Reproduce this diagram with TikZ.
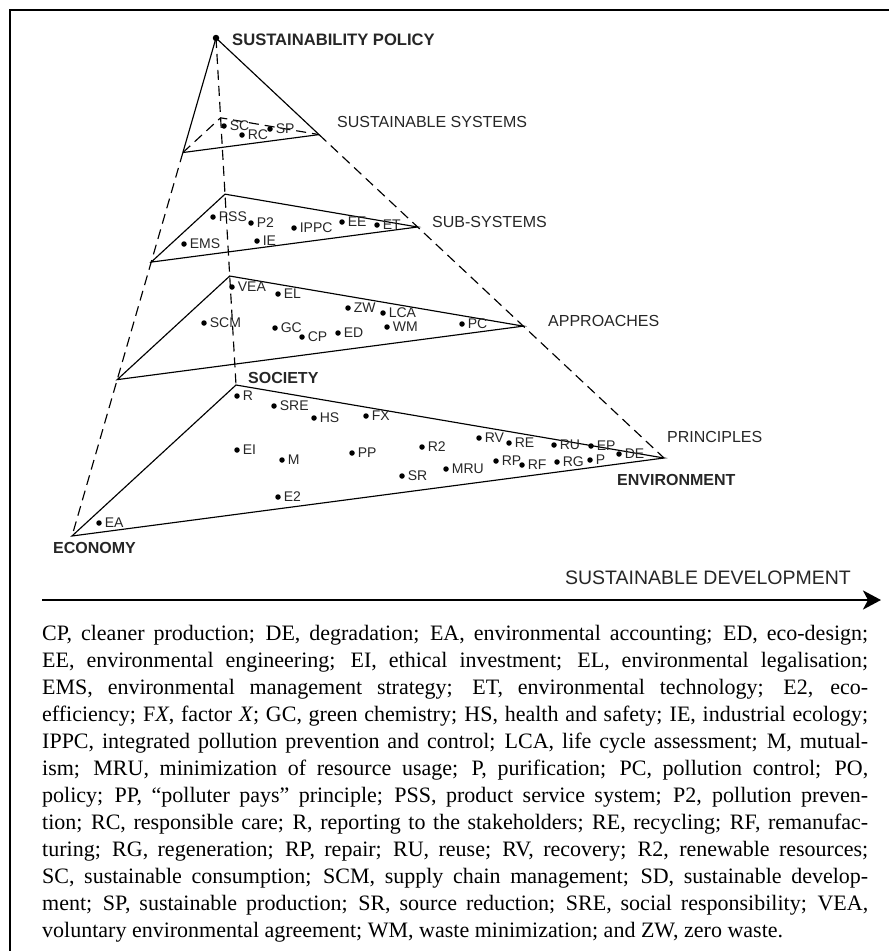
\documentclass[tikz,border=0pt]{standalone}
\usepackage{fontspec}
\setmainfont{Liberation Serif}
\newfontfamily\labfont{Liberation Sans}
\usetikzlibrary{calc,arrows.meta}

\tikzset{
  edge/.style={line width=1.15pt, black},
  hidden/.style={line width=1.15pt, black, dash pattern=on 10pt off 6pt},
  dot/.style={circle, fill=black, minimum size=5.5pt, inner sep=0pt},
  lab/.style={font=\labfont\fontsize{14}{16}\selectfont, text=black!85, inner sep=0.4pt},
  level/.style={font=\labfont\fontsize{16}{18}\selectfont, text=black!85, inner sep=0pt, anchor=west},
  corner/.style={font=\labfont\bfseries\fontsize{16}{18}\selectfont, text=black!85, inner sep=0pt, anchor=west},
  item/.style={dot, label={[lab, label distance=2.3pt]right:#1}}
}

\begin{document}
\begin{tikzpicture}[x=1pt, y=-1pt]
\useasboundingbox (0,0) rectangle (889,951);

% frame
\coordinate (fbl) at (10,951);
\coordinate (ftl) at (10,10);
\coordinate (ftr) at (889,10);
\draw[line width=1.2pt] (fbl) -- (ftl) -- (ftr);

% pyramid corners
\coordinate (A) at (216,38);
\coordinate (E) at (72,536);
\coordinate (S) at (236,385);
\coordinate (V) at (664,458);

% cross sections
\foreach \i/\t in {1/0.23, 2/0.45, 3/0.686} {
  \coordinate (L\i) at ($(A)!\t!(E)$);
  \coordinate (M\i) at ($(A)!\t!(S)$);
  \coordinate (R\i) at ($(A)!\t!(V)$);
}

% edges
\draw[edge] (A) -- (L1);
\draw[edge] (A) -- (R1);
\draw[hidden] (A) -- (S);
\draw[hidden] (L1) -- (E);
\draw[hidden] (R1) -- (V);

\draw[edge] (L1) -- (R1);
\draw[hidden] (L1) -- (M1) -- (R1);
\draw[edge] (L2) -- (M2) -- (R2) -- cycle;
\draw[edge] (L3) -- (M3) -- (R3) -- cycle;
\draw[edge] (E) -- (S) -- (V) -- cycle;

\node[circle, fill=black, minimum size=6.5pt, inner sep=0pt] (apex) at (A) {};

% corner labels
\node[corner, font=\labfont\bfseries\fontsize{16.6}{18}\selectfont] (policy) at (232,40) {SUSTAINABILITY POLICY};
\node[corner] (society) at (248,378) {SOCIETY};
\node[corner] (economy) at (53,548) {ECONOMY};
\node[corner] (environment) at (617,480) {ENVIRONMENT};

% level labels
\node[level] (systems) at (337,122) {SUSTAINABLE SYSTEMS};
\node[level] (subsystems) at (432,222) {SUB-SYSTEMS};
\node[level] (approaches) at (548,321) {APPROACHES};
\node[level] (principles) at (667,437) {PRINCIPLES};

% sustainable systems
\node[item=SC] (sc) at (224,126) {};
\node[item=RC] (rc) at (242,135) {};
\node[item=SP] (sp) at (270,129) {};

% sub-systems
\node[item=PSS] (pss) at (213,217) {};
\node[item=P2] (p2) at (251,223) {};
\node[item=IPPC] (ippc) at (294,228) {};
\node[item=EE] (ee) at (342,222) {};
\node[item=ET] (et) at (377,225) {};
\node[item=EMS] (ems) at (184,244) {};
\node[item=IE] (ie) at (257,241) {};

% approaches
\node[item=VEA] (vea) at (232,287) {};
\node[item=EL] (el) at (278,294) {};
\node[item=ZW] (zw) at (348,308) {};
\node[item=LCA] (lca) at (383,313) {};
\node[item=SCM] (scm) at (204,323) {};
\node[item=GC] (gc) at (275,328) {};
\node[item=CP] (cp) at (302,337) {};
\node[item=ED] (ed) at (338,333) {};
\node[item=WM] (wm) at (387,327) {};
\node[item=PC] (pc) at (462,324) {};

% principles
\node[item=R] (r) at (237,396) {};
\node[item=SRE] (sre) at (274,406) {};
\node[item=HS] (hs) at (314,418) {};
\node[item=FX] (fx) at (366,416) {};
\node[item=EI] (ei) at (237,450) {};
\node[item=M] (m) at (282,460) {};
\node[item=PP] (pp) at (352,453) {};
\node[item=R2] (r2) at (422,447) {};
\node[item=SR] (sr) at (402,476) {};
\node[item=MRU] (mru) at (446,469) {};
\node[item=RV] (rv) at (479,438) {};
\node[item=RE] (re) at (509,443) {};
\node[item=RP] (rp) at (496,461) {};
\node[item=RF] (rf) at (522,465) {};
\node[item=RU] (ru) at (554,445) {};
\node[item=RG] (rg) at (557,462) {};
\node[item=EP] (ep) at (591,446) {};
\node[item=P] (p) at (590,460) {};
\node[item=DE] (de) at (619,454) {};
\node[item=E2] (e2) at (278,497) {};
\node[item=EA] (ea) at (99,523) {};

% development axis
\coordinate (sdstart) at (42,600);
\coordinate (sdend) at (881,600);
\draw[line width=2.8pt, -{Stealth[length=18pt, width=19pt, inset=5pt]}] (sdstart) -- (sdend);
\node[font=\labfont\fontsize{19.5}{21}\selectfont, text=black!85, inner sep=0pt, anchor=east] (sd) at (851,578) {SUSTAINABLE DEVELOPMENT};

% abbreviations
\node[anchor=north west, inner sep=0pt, text width=826pt, align=justify,
      font=\fontsize{22}{27}\selectfont] (key) at (42,625) {%
CP, cleaner production; DE, degradation; EA, environmental accounting; ED, eco-design;\linebreak
EE, environmental engineering; EI, ethical investment; EL, environmental legalisation;\linebreak
EMS, environmental management strategy; ET, environmental technology; E2, eco-\linebreak
efficiency; F\textit{X}, factor \textit{X}; GC, green chemistry; HS, health and safety; IE, industrial ecology;\linebreak
IPPC, integrated pollution prevention and control; LCA, life cycle assessment; M, mutual-\linebreak
ism; MRU, minimization of resource usage; P, purification; PC, pollution control; PO,\linebreak
policy; PP, “polluter pays” principle; PSS, product service system; P2, pollution preven-\linebreak
tion; RC, responsible care; R, reporting to the stakeholders; RE, recycling; RF, remanufac-\linebreak
turing; RG, regeneration; RP, repair; RU, reuse; RV, recovery; R2, renewable resources;\linebreak
SC, sustainable consumption; SCM, supply chain management; SD, sustainable develop-\linebreak
ment; SP, sustainable production; SR, source reduction; SRE, social responsibility; VEA,\linebreak
voluntary environmental agreement; WM, waste minimization; and ZW, zero waste.};

\end{tikzpicture}
\end{document}
